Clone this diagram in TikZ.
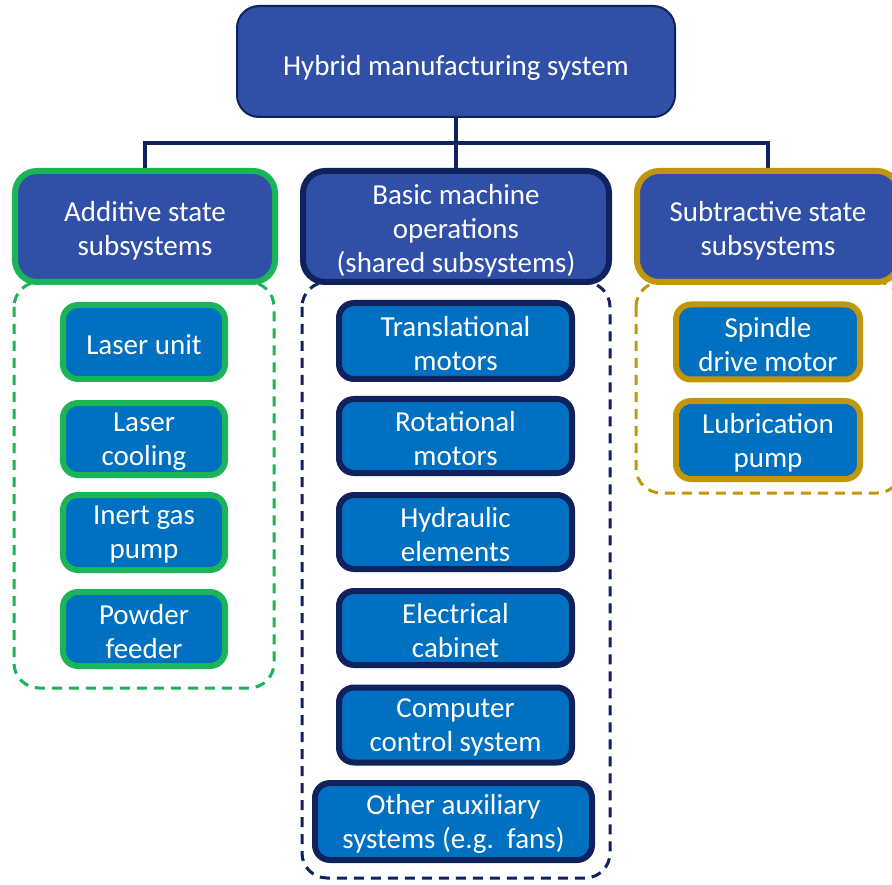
\documentclass[tikz,border=0pt]{standalone}
\usepackage{fontspec}
\setmainfont{Carlito}
\usetikzlibrary{backgrounds}
\definecolor{headfill}{RGB}{48,79,167}
\definecolor{childfill}{RGB}{0,112,192}
\definecolor{navy}{RGB}{15,34,94}
\definecolor{grn}{RGB}{27,180,88}
\definecolor{gold}{RGB}{194,150,10}
\tikzset{
  txt/.style={text=white, align=center, inner sep=0pt, font=\fontsize{29}{34}\selectfont},
  topbox/.style={draw=navy, line width=2pt, fill=headfill, rounded corners=22pt, inner sep=0pt,
    label={[txt,yshift=-6pt]center:{#1}}},
  headbox/.style={line width=6pt, fill=headfill, rounded corners=22pt, minimum height=111pt, inner sep=0pt,
    label={[txt,yshift=-4pt]center:{#1}}},
  childbox/.style={line width=6pt, fill=childfill, rounded corners=15pt, inner sep=0pt,
    label={[txt,yshift=-2.5pt]center:{#1}}},
  grp/.style={line width=3pt, dash pattern=on 10pt off 7pt, rounded corners=25pt},
  conn/.style={draw=navy, line width=4pt}
}
\begin{document}
\begin{tikzpicture}[x=1pt,y=-1pt]
\clip (0,0) rectangle (892,885);
% top
\node[topbox={Hybrid manufacturing system}, minimum width=438pt, minimum height=111pt] (top) at (456,61.5) {};
% headers
\node[headbox={Additive state\\subsystems}, draw=grn, minimum width=260pt] (add) at (145,226.5) {};
\node[headbox={Basic machine\\operations\\(shared subsystems)}, draw=navy, minimum width=306pt] (basic) at (456,226.5) {};
\node[headbox={Subtractive state\\subsystems}, draw=gold, minimum width=262pt] (sub) at (768,226.5) {};
% additive children
\node[childbox={Laser unit}, draw=grn, minimum width=162pt, minimum height=74pt] (a1) at (144,342) {};
\node[childbox={Laser\\cooling}, draw=grn, minimum width=162pt, minimum height=72pt] (a2) at (144,439) {};
\node[childbox={Inert gas\\pump}, draw=grn, minimum width=162pt, minimum height=75pt] (a3) at (144,532.5) {};
\node[childbox={Powder\\feeder}, draw=grn, minimum width=162pt, minimum height=74pt] (a4) at (144,629) {};
% basic children
\node[childbox={Translational\\motors}, draw=navy, minimum width=233pt, minimum height=76pt] (b1) at (455.5,341) {};
\node[childbox={Rotational\\motors}, draw=navy, minimum width=233pt, minimum height=74pt] (b2) at (455.5,436) {};
\node[childbox={Hydraulic\\elements}, draw=navy, minimum width=233pt, minimum height=74pt] (b3) at (455.5,532) {};
\node[childbox={Electrical\\cabinet}, draw=navy, minimum width=233pt, minimum height=74pt] (b4) at (455.5,628) {};
\node[childbox={Computer\\control system}, draw=navy, minimum width=233pt, minimum height=75pt] (b5) at (455.5,725) {};
\node[childbox={Other auxiliary\\systems (e.g.~~fans)}, draw=navy, minimum width=277pt, minimum height=77pt] (b6) at (453.5,821.5) {};
% subtractive children
\node[childbox={Spindle\\drive motor}, draw=gold, minimum width=184pt, minimum height=75pt] (s1) at (768,342) {};
\node[childbox={Lubrication\\pump}, draw=gold, minimum width=184pt, minimum height=78pt] (s2) at (768,440) {};
\begin{scope}[on background layer]
\fill[white] (0,0) rectangle (892,885);
% group containers
\draw[grp, draw=grn] (14,282) rectangle (274,688);
\draw[grp, draw=navy] (302,282) rectangle (610,878);
\draw[grp, draw=gold] (636,282) rectangle (902,493);
% connectors
\coordinate (bus) at (456,143);
\draw[conn] (top.south) -- (basic.north);
\draw[conn] (add.north) |- (bus) -| (sub.north);
\end{scope}
\end{tikzpicture}
\end{document}
